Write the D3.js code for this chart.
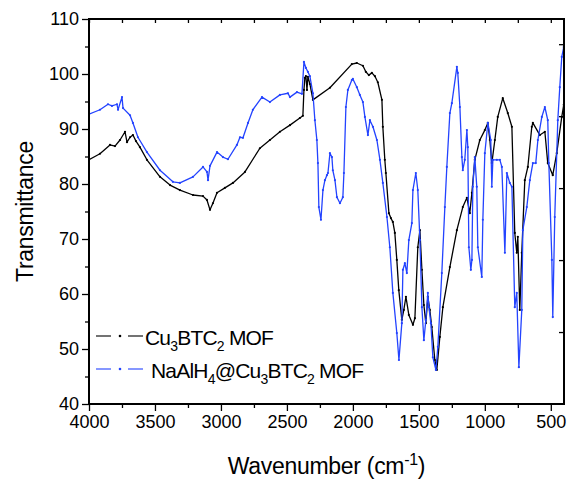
<!DOCTYPE html>
<html>
<head>
<meta charset="utf-8">
<script src="https://cdn.jsdelivr.net/npm/d3@7"></script>
<style>
  body { margin: 0; background: #fff; }
  svg { display: block; font-family: "Liberation Sans", Arial, sans-serif; }
</style>
</head>
<body>
<svg id="chart"></svg>
<script>
// Cu3BTC2 MOF (black)
const cuWave = [4000,3917,3841,3803,3765,3727,3712,3689,3667,3644,3614,3561,3462,3386,3311,3212,3136,3106,3083,3061,3030,2970,2909,2818,2705,2629,2553,2477,2402,2379,2371,2364,2356,2348,2341,2326,2303,2174,2008,1970,1924,1902,1879,1856,1833,1811,1780,1773,1758,1750,1727,1712,1697,1682,1667,1652,1629,1614,1598,1576,1545,1530,1508,1492,1477,1462,1447,1432,1417,1402,1379,1364,1341,1318,1265,1212,1167,1136,1114,1098,1076,1038,1000,977,962,947,924,902,864,826,795,773,758,750,735,720,697,674,644,636,583,545,523,485,455,417,402];
const cuTrans = [84.4,85.5,87.1,86.9,88.0,89.5,87.6,88.5,88.9,87.8,86.7,84.4,81.3,79.8,78.9,78.0,77.8,77.1,75.3,76.5,78.4,79.3,80.2,82.2,86.5,88.0,89.5,90.7,92.0,92.4,97.1,99.3,99.6,97.1,99.5,98.2,95.3,97.5,101.8,102.0,101.5,100.4,99.8,100.2,99.6,98.5,95.3,90.4,84.4,82.0,74.7,73.8,73.1,71.1,66.2,60.7,55.3,57.1,59.5,56.2,54.4,55.6,68.5,71.6,64.4,58.0,54.7,59.5,57.1,54.0,48.0,46.2,52.2,57.6,64.9,71.6,75.8,77.5,74.7,78.4,84.4,88.0,89.8,91.1,88.0,83.8,88.0,92.2,95.6,92.9,90.4,71.1,67.5,70.4,57.1,67.5,80.7,83.1,90.4,91.1,88.9,89.5,83.8,81.6,85.6,92.2,94.4];

// NaAlH4@Cu3BTC2 MOF (blue)
const naWave = [4000,3917,3856,3826,3788,3780,3750,3742,3689,3667,3629,3561,3462,3364,3311,3212,3136,3106,3098,3083,3030,2985,2947,2879,2856,2833,2795,2758,2689,2629,2553,2492,2477,2424,2386,2371,2356,2341,2326,2303,2288,2273,2265,2258,2242,2227,2212,2197,2189,2174,2159,2152,2136,2121,2098,2076,2068,2053,2038,2008,2000,1970,1947,1924,1909,1886,1871,1848,1818,1795,1773,1742,1720,1697,1667,1651,1629,1621,1606,1591,1576,1553,1545,1523,1508,1492,1477,1462,1447,1432,1424,1409,1394,1371,1356,1326,1303,1288,1265,1250,1212,1205,1189,1174,1167,1152,1136,1129,1121,1106,1098,1091,1076,1061,1053,1023,1015,1000,977,955,947,939,909,886,871,848,833,811,795,773,758,742,720,712,682,659,636,614,598,568,545,523,515,492,485,470,447,432,417,402];
const naTrans = [92.7,93.5,94.5,94.2,94.5,93.5,95.8,93.8,92.5,91.1,88.5,85.8,82.5,80.4,80.2,81.3,83.1,82.2,80.7,83.3,85.8,84.9,84.5,87.1,88.5,88.4,91.1,93.5,95.8,94.9,96.2,96.5,95.8,96.7,96.4,102.2,101.1,100.4,99.6,96.5,91.6,88.0,83.8,75.8,73.5,78.9,80.7,81.6,82.0,85.6,84.9,82.5,80.7,77.6,76.5,77.6,82.0,94.0,97.1,98.9,99.1,97.6,96.2,94.9,92.2,88.9,91.6,90.4,88.0,84.4,80.2,74.0,68.5,60.2,52.9,48.0,54.7,64.4,65.6,63.8,69.8,72.9,78.9,82.0,78.9,69.8,57.6,51.6,55.3,60.2,57.6,54.7,48.5,46.2,50.4,63.8,75.8,83.1,92.9,94.7,101.3,100.2,94.0,84.9,82.5,84.4,89.8,86.7,68.5,64.4,66.2,79.5,84.9,79.5,68.5,63.1,73.5,85.6,91.1,88.0,79.5,84.4,84.4,84.4,83.1,67.5,82.0,80.2,79.5,57.6,60.2,46.7,57.1,71.6,75.8,80.7,83.8,83.8,88.0,92.2,94.0,91.6,83.8,66.2,55.8,74.0,91.6,97.6,103.1,104.9];

const xMajor = [4000, 3500, 3000, 2500, 2000, 1500, 1000, 500];
const xMinor = [3750, 3250, 2750, 2250, 1750, 1250, 750];
const yMajor = [40, 50, 60, 70, 80, 90, 100, 110];
const yMinor = [45, 55, 65, 75, 85, 95, 105];

const width = 567;
const height = 480;
const margin = {left: 89, right: 3, top: 19, bottom: 76};
const plotW = width - margin.left - margin.right;
const plotH = height - margin.top - margin.bottom;

const svg = d3.select('#chart')
  .attr('width', width)
  .attr('height', height);

const x = d3.scaleLinear().domain([4000, 400]).range([margin.left, margin.left + plotW]);
const y = d3.scaleLinear().domain([40, 110]).range([margin.top + plotH, margin.top]);

svg.append('defs').append('clipPath').attr('id', 'clip')
  .append('rect')
  .attr('x', margin.left).attr('y', margin.top)
  .attr('width', plotW).attr('height', plotH);

const series = [
  {name: 'cu', wave: cuWave, trans: cuTrans, color: '#000000'},
  {name: 'na', wave: naWave, trans: naTrans, color: '#2343ff'}
];

const line = d3.line().x(d => x(d[0])).y(d => y(d[1]));

const plot = svg.append('g').attr('clip-path', 'url(#clip)');

series.forEach(s => {
  const pts = s.wave.map((w, i) => [w, s.trans[i]]);
  plot.append('path')
    .datum(pts)
    .attr('fill', 'none')
    .attr('stroke', s.color)
    .attr('stroke-width', 1.3)
    .attr('stroke-linejoin', 'round')
    .attr('d', line);
  plot.selectAll('.dot-' + s.name)
    .data(pts)
    .enter()
    .append('circle')
    .attr('class', 'dot-' + s.name)
    .attr('cx', d => x(d[0]))
    .attr('cy', d => y(d[1]))
    .attr('r', 1.1)
    .attr('fill', s.color);
});

// axes
function styleAxis(g) {
  g.select('.domain').remove();
  g.selectAll('line').attr('stroke', '#000').attr('stroke-width', 1.3);
  g.selectAll('text').attr('fill', '#000').style('font-size', '18px');
}

const bottom = margin.top + plotH;
const right = margin.left + plotW;

svg.append('g')
  .attr('transform', `translate(0,${bottom})`)
  .call(d3.axisBottom(x).tickValues(xMajor).tickSize(7).tickPadding(4).tickFormat(d3.format('d')))
  .call(styleAxis);
svg.append('g')
  .attr('transform', `translate(0,${bottom})`)
  .call(d3.axisBottom(x).tickValues(xMinor).tickSize(4).tickFormat(''))
  .call(styleAxis);

svg.append('g')
  .attr('transform', `translate(0,${margin.top})`)
  .call(d3.axisTop(x).tickValues(xMajor.concat(xMinor)).tickSize(-4).tickFormat(''))
  .call(styleAxis);

svg.append('g')
  .attr('transform', `translate(${margin.left},0)`)
  .call(d3.axisLeft(y).tickValues(yMajor).tickSize(7).tickPadding(3))
  .call(styleAxis);
svg.append('g')
  .attr('transform', `translate(${margin.left},0)`)
  .call(d3.axisLeft(y).tickValues(yMinor).tickSize(4).tickFormat(''))
  .call(styleAxis);

// right axis carries its own unlabelled tick spacing
const yRight = d3.scaleLinear().domain([0, 5.35]).range([bottom, margin.top]);
svg.append('g')
  .attr('transform', `translate(${right},0)`)
  .call(d3.axisRight(yRight).tickValues([1, 2, 3, 4, 5]).tickSize(-5).tickFormat(''))
  .call(styleAxis);

// frame
svg.append('rect')
  .attr('x', margin.left).attr('y', margin.top)
  .attr('width', plotW).attr('height', plotH)
  .attr('fill', 'none')
  .attr('stroke', '#000')
  .attr('stroke-width', 2);

// axis titles
svg.append('text')
  .attr('x', margin.left + plotW / 2)
  .attr('y', 474)
  .attr('text-anchor', 'middle')
  .style('font-size', '23px')
  .style('letter-spacing', '-0.3px')
  .html('Wavenumber (cm<tspan dy="-9" font-size="16px">-1</tspan><tspan dy="9">)</tspan>');

svg.append('text')
  .attr('transform', `translate(33,${margin.top + plotH / 2}) rotate(-90)`)
  .attr('text-anchor', 'middle')
  .style('font-size', '23px')
  .style('letter-spacing', '-0.3px')
  .text('Transmittance');

// legend
const legendRows = [
  {color: '#000000', y: 336, tx: 145, parts: [['Cu', 0], ['3', 1], ['BTC', 0], ['2', 1], [' MOF', 0]]},
  {color: '#2343ff', y: 369, tx: 151, parts: [['NaAlH', 0], ['4', 1], ['@Cu', 0], ['3', 1], ['BTC', 0], ['2', 1], [' MOF', 0]]}
];

const legend = svg.append('g');
legendRows.forEach(r => {
  [[96, 111], [128, 143]].forEach(seg => {
    legend.append('line')
      .attr('x1', seg[0]).attr('x2', seg[1])
      .attr('y1', r.y).attr('y2', r.y)
      .attr('stroke', r.color).attr('stroke-width', 1.1);
  });
  legend.append('circle')
    .attr('cx', 120).attr('cy', r.y).attr('r', 1.3).attr('fill', r.color);
  const t = legend.append('text')
    .attr('x', r.tx)
    .attr('y', r.y + 9)
    .style('font-size', '21px')
    .style('letter-spacing', '-0.8px');
  let sub = 0;
  r.parts.forEach(p => {
    const dy = p[1] === sub ? 0 : (p[1] ? 6 : -6);
    sub = p[1];
    t.append('tspan')
      .attr('dy', dy)
      .style('font-size', p[1] ? '14px' : '21px')
      .text(p[0]);
  });
});
</script>
</body>
</html>
